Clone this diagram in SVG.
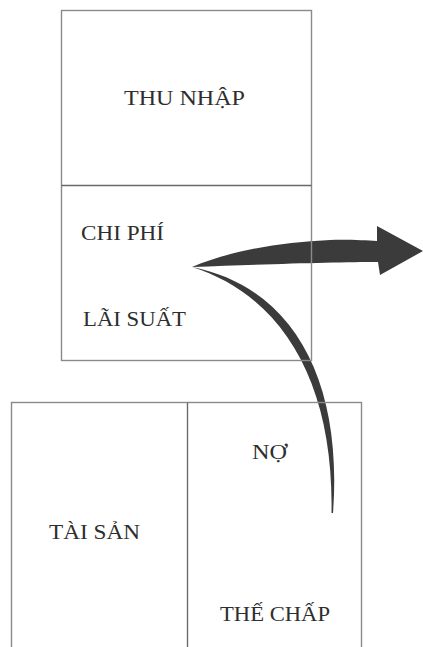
<svg xmlns="http://www.w3.org/2000/svg" width="423" height="647" viewBox="0 0 423 647">
<style>
.box{fill:none;stroke:#8a8a8a;stroke-width:1.4}
.div{stroke:#6a6a6a;stroke-width:1.4}
.lbl{font-family:"Liberation Serif","Times New Roman",serif;font-size:22px;fill:#2e2e2e}
.arr{fill:#3b3b3b;stroke:none}
</style>
<rect width="423" height="647" fill="#fff"/>
<g id="connectors">
<path class="arr" d="M192,267 C230,251 280,242 330,240 C350,239.5 365,240.5 377,241 L377,226 L423,251 L380,275 L378,262 C340,262 270,264 192,267 Z"/>
<path class="arr" d="M192,267 C293,287 343,380 333,513 L331.5,513 C334,385 284,296 192,267 Z"/>
</g>
<g id="income-statement">
<rect class="box" x="61.5" y="10.5" width="250" height="350"/>
<line class="div" x1="61.5" y1="185.5" x2="311.5" y2="185.5"/>
<g id="thu-nhap"><text class="lbl" x="124" y="105" textLength="121" lengthAdjust="spacingAndGlyphs">THU NHẬP</text></g>
<g id="chi-phi"><text class="lbl" x="81" y="240" textLength="83" lengthAdjust="spacingAndGlyphs">CHI PHÍ</text></g>
<g id="lai-suat"><text class="lbl" x="83" y="326" textLength="103" lengthAdjust="spacingAndGlyphs">LÃI SUẤT</text></g>
</g>
<g id="balance-sheet">
<rect class="box" x="11.5" y="402.5" width="350" height="260"/>
<line class="div" x1="187.5" y1="402.5" x2="187.5" y2="647"/>
<g id="tai-san"><text class="lbl" x="49" y="539" textLength="91" lengthAdjust="spacingAndGlyphs">TÀI SẢN</text></g>
<g id="no"><text class="lbl" x="252" y="459" textLength="35" lengthAdjust="spacingAndGlyphs">NỢ</text></g>
<g id="the-chap"><text class="lbl" x="220" y="621" textLength="110" lengthAdjust="spacingAndGlyphs">THẾ CHẤP</text></g>
</g>
</svg>
